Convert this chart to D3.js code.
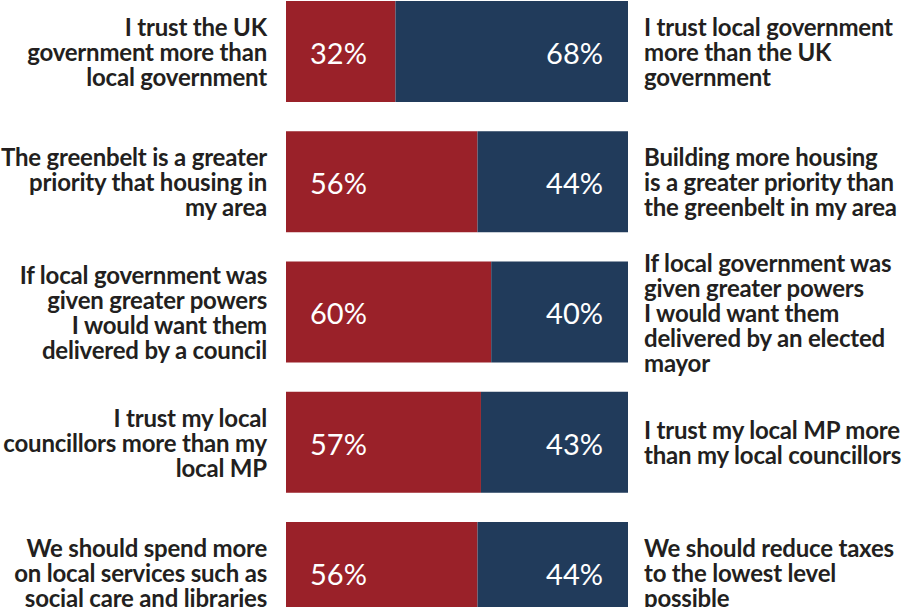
<!DOCTYPE html>
<html>
<head>
<meta charset="utf-8">
<script src="https://cdn.jsdelivr.net/npm/d3@7"></script>
<style>
  html, body { margin: 0; padding: 0; background: #fff; }
  svg { display: block; }
</style>
</head>
<body>
<svg id="chart" width="911" height="607"></svg>
<script>
// left statement, one line per entry
var leftLabels = [
  ["I trust the UK", "government more than", "local government"],
  ["The greenbelt is a greater", "priority that housing in", "my area"],
  ["If local government was", "given greater powers", "I would want them", "delivered by a council"],
  ["I trust my local", "councillors more than my", "local MP"],
  ["We should spend more", "on local services such as", "social care and libraries"]
];
var rightLabels = [
  ["I trust local government", "more than the UK", "government"],
  ["Building more housing", "is a greater priority than", "the greenbelt in my area"],
  ["If local government was", "given greater powers", "I would want them", "delivered by an elected", "mayor"],
  ["I trust my local MP more", "than my local councillors"],
  ["We should reduce taxes", "to the lowest level", "possible"]
];
var leftValues = [32, 56, 60, 57, 56];
var rightValues = [68, 44, 40, 43, 44];

var RED = "#9a2129";
var NAVY = "#213b5b";
var TEXT = "#231f20";

var BAR_LEFT = 286, BAR_RIGHT = 628;
var LINE_H = 25;

var svg = d3.select("#chart");

var rows = d3.range(leftValues.length);

var yScale = d3.scaleBand()
  .domain(rows)
  .range([1, 623])
  .paddingInner(0.2246)
  .paddingOuter(0);

var xScale = d3.scaleLinear()
  .domain([0, 100])
  .range([BAR_LEFT, BAR_RIGHT]);

var row = svg.selectAll("g.row")
  .data(rows)
  .enter().append("g")
  .attr("class", "row")
  .attr("transform", function(i){ return "translate(0," + yScale(i) + ")"; });

// red part (left answer)
row.append("rect")
  .attr("x", xScale(0))
  .attr("y", 0)
  .attr("width", function(i){ return xScale(leftValues[i]) - xScale(0); })
  .attr("height", yScale.bandwidth())
  .attr("fill", RED);

// navy part (right answer)
row.append("rect")
  .attr("x", function(i){ return xScale(leftValues[i]); })
  .attr("y", 0)
  .attr("width", function(i){ return xScale(leftValues[i] + rightValues[i]) - xScale(leftValues[i]); })
  .attr("height", yScale.bandwidth())
  .attr("fill", NAVY);

var mid = yScale.bandwidth() / 2;

// percentages
row.append("text")
  .attr("x", xScale(0) + 24)
  .attr("y", mid)
  .attr("dy", "0.43em")
  .attr("font-family", "Lato, sans-serif")
  .attr("font-size", 29)
  .attr("fill", "#fff")
  .text(function(i){ return leftValues[i] + "%"; });

row.append("text")
  .attr("x", xScale(100) - 25)
  .attr("y", mid)
  .attr("dy", "0.43em")
  .attr("text-anchor", "end")
  .attr("font-family", "Lato, sans-serif")
  .attr("font-size", 29)
  .attr("fill", "#fff")
  .text(function(i){ return rightValues[i] + "%"; });

// statements either side
function addLabel(sel, labels, x, anchor){
  sel.append("text")
    .attr("x", x)
    .attr("text-anchor", anchor)
    .attr("font-family", "Lato, sans-serif")
    .attr("font-weight", 700)
    .attr("font-size", 24)
    .attr("letter-spacing", -0.2)
    .attr("fill", TEXT)
    .each(function(i){
      var lines = labels[i];
      var first = mid - (lines.length - 1) * LINE_H / 2;
      var t = d3.select(this);
      lines.forEach(function(l, k){
        t.append("tspan")
          .attr("x", x)
          .attr("y", first + k * LINE_H)
          .attr("dy", "0.4em")
          .text(l);
      });
    });
}

addLabel(row, leftLabels, 267, "end");
addLabel(row, rightLabels, 644, "start");
</script>
</body>
</html>
